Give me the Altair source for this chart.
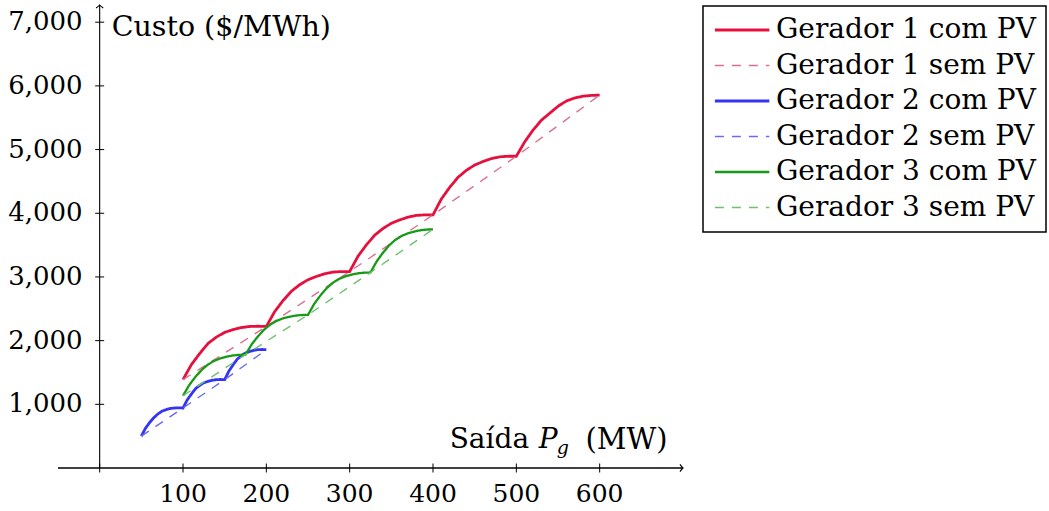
import altair as alt
import pandas as pd

# ---------------- data ----------------
series = ["Gerador 1 com PV", "Gerador 1 sem PV",
          "Gerador 2 com PV", "Gerador 2 sem PV",
          "Gerador 3 com PV", "Gerador 3 sem PV"]

g1_com_x = [100, 110, 120, 130, 140, 150, 160, 170, 180, 190,
            200, 210, 220, 230, 240, 250, 260, 270, 280, 290,
            300, 310, 320, 330, 340, 350, 360, 370, 380, 390,
            400, 410, 420, 430, 440, 450, 460, 470, 480, 490,
            500, 510, 520, 530, 540, 550, 560, 570, 580, 590, 600]
g1_com_y = [1388, 1622, 1797, 1955, 2055, 2130, 2172, 2205, 2222, 2226,
            2222, 2455, 2628, 2774, 2878, 2956, 3007, 3050, 3076, 3085,
            3085, 3325, 3503, 3655, 3761, 3842, 3895, 3939, 3966, 3975,
            3975, 4223, 4407, 4564, 4674, 4757, 4812, 4858, 4886, 4895,
            4895, 5120, 5305, 5460, 5570, 5680, 5762, 5810, 5838, 5850, 5855]
g1_sem_x = [100, 200, 300, 400, 500, 600]
g1_sem_y = [1388, 2222, 3085, 3975, 4895, 5855]

g2_com_x = [50, 55, 60, 65, 70, 75, 80, 85, 90, 95,
            100, 105, 110, 115, 120, 125, 130, 135, 140, 145,
            150, 155, 160, 165, 170, 175, 180, 185, 190, 195, 200]
g2_com_y = [500, 625, 715, 790, 850, 893, 917, 935, 942, 945,
            942, 1067, 1160, 1245, 1298, 1338, 1360, 1378, 1387, 1390,
            1387, 1519, 1618, 1707, 1764, 1806, 1830, 1849, 1858, 1861, 1858]
g2_sem_x = [50, 100, 150, 200]
g2_sem_y = [500, 942, 1387, 1858]

g3_com_x = [100, 107.5, 115, 122.5, 130, 137.5, 145, 152.5, 160, 167.5,
            175, 182.5, 190, 197.5, 205, 212.5, 220, 227.5, 235, 242.5,
            250, 257.5, 265, 272.5, 280, 287.5, 295, 302.5, 310, 317.5,
            325, 332.5, 340, 347.5, 355, 362.5, 370, 377.5, 385, 392.5, 400]
g3_com_y = [1135, 1303, 1432, 1541, 1625, 1683, 1722, 1748, 1767, 1777,
            1780, 1943, 2068, 2174, 2255, 2311, 2349, 2374, 2393, 2402,
            2405, 2578, 2711, 2824, 2910, 2970, 3010, 3037, 3057, 3067,
            3070, 3246, 3381, 3497, 3585, 3645, 3686, 3713, 3733, 3744, 3747]
g3_sem_x = [100, 175, 250, 325, 400]
g3_sem_y = [1135, 1780, 2405, 3070, 3747]

x_tick_values = [0, 100, 200, 300, 400, 500, 600]
x_label_values = [100, 200, 300, 400, 500, 600]
x_label_texts = ["100", "200", "300", "400", "500", "600"]
y_tick_values = [1000, 2000, 3000, 4000, 5000, 6000, 7000]
y_label_texts = ["1,000", "2,000", "3,000", "4,000", "5,000", "6,000", "7,000"]

# ---------------- styles ----------------
colors = ["#E6103E", "#D9708C", "#3434F2", "#6B6BF2", "#179A17", "#6CC26C"]
dashes = [[1, 0], [9, 8], [1, 0], [9, 8], [1, 0], [9, 8]]
widths = [2.8, 1.4, 2.8, 1.4, 2.3, 1.4]
FONT = "DejaVu Serif"
X_MIN, X_MAX = -50, 700
Y_MIN, Y_MAX = 0, 7270

frames = []
for name, xs, ys in [(series[0], g1_com_x, g1_com_y), (series[1], g1_sem_x, g1_sem_y),
                     (series[2], g2_com_x, g2_com_y), (series[3], g2_sem_x, g2_sem_y),
                     (series[4], g3_com_x, g3_com_y), (series[5], g3_sem_x, g3_sem_y)]:
    frames.append(pd.DataFrame({"P": xs, "C": ys, "serie": name}))
lines_df = pd.concat(frames, ignore_index=True)

xs_scale = alt.Scale(domain=[X_MIN, X_MAX], nice=False, zero=False)
ys_scale = alt.Scale(domain=[Y_MIN, Y_MAX], nice=False, zero=False)

def X(field):
    return alt.X(field, type="quantitative", scale=xs_scale, axis=None)

def Y(field):
    return alt.Y(field, type="quantitative", scale=ys_scale, axis=None)

lines = alt.Chart(lines_df).mark_line().encode(
    x=X("P"),
    y=Y("C"),
    color=alt.Color("serie:N", scale=alt.Scale(domain=series, range=colors),
                    legend=alt.Legend(title=None)),
    strokeDash=alt.StrokeDash("serie:N", scale=alt.Scale(domain=series, range=dashes),
                              legend=alt.Legend(title=None)),
    strokeWidth=alt.StrokeWidth("serie:N", scale=alt.Scale(domain=series, range=widths, type="ordinal"),
                                legend=alt.Legend(title=None)),
)

x_axis_line = alt.Chart(pd.DataFrame({"a": [X_MIN], "b": [X_MAX], "y": [0]})).mark_rule(
    color="black", strokeWidth=1.6).encode(x=X("a"), x2="b", y=Y("y"))
y_axis_line = alt.Chart(pd.DataFrame({"x": [0], "a": [Y_MIN], "b": [Y_MAX]})).mark_rule(
    color="black", strokeWidth=1.1).encode(x=X("x"), y=Y("a"), y2="b")

arrow_right = alt.Chart(pd.DataFrame({"x": [X_MAX], "y": [0]})).mark_point(
    shape="M-1.1,-1.3Q-0.4,-0.3 0,0Q-0.4,0.3 -1.1,1.3", size=30, filled=False,
    stroke="black", strokeWidth=1.1, opacity=1).encode(x=X("x"), y=Y("y"))
arrow_up = alt.Chart(pd.DataFrame({"x": [0], "y": [Y_MAX]})).mark_point(
    shape="M-1.3,1.1Q-0.3,0.4 0,0Q0.3,0.4 1.3,1.1", size=30, filled=False,
    stroke="black", strokeWidth=1.1, opacity=1).encode(x=X("x"), y=Y("y"))

x_ticks = alt.Chart(pd.DataFrame({"x": x_tick_values, "y": [0] * len(x_tick_values)})).mark_tick(
    orient="vertical", size=9, thickness=1, color="black", opacity=1).encode(x=X("x"), y=Y("y"))
y_ticks = alt.Chart(pd.DataFrame({"x": [0] * len(y_tick_values), "y": y_tick_values})).mark_tick(
    orient="horizontal", size=9, thickness=1, color="black", opacity=1).encode(x=X("x"), y=Y("y"))

x_labels = alt.Chart(pd.DataFrame({"x": x_label_values, "y": [0] * len(x_label_values),
                                   "t": x_label_texts})).mark_text(
    font=FONT, fontSize=25, color="black", align="center", baseline="middle", dy=26
).encode(x=X("x"), y=Y("y"), text="t:N")
y_labels = alt.Chart(pd.DataFrame({"x": [0] * len(y_tick_values), "y": y_tick_values,
                                   "t": y_label_texts})).mark_text(
    font=FONT, fontSize=26, color="black", align="right", baseline="middle", dx=-17
).encode(x=X("x"), y=Y("y"), text="t:N")

title_df = pd.DataFrame({
    "x": [0, 420, 526.8, 548.4, 681.6],
    "y": [7000, 435, 435, 435, 435],
    "t": ["Custo ($/MWh)", "Saída", "P", "g", "(MW)"],
})
t_custo = alt.Chart(title_df.iloc[[0]]).mark_text(
    font=FONT, fontSize=28.5, color="black", align="left", baseline="middle", dx=12, dy=5
).encode(x=X("x"), y=Y("y"), text="t:N")
t_saida = alt.Chart(title_df.iloc[[1]]).mark_text(
    font=FONT, fontSize=28, color="black", align="left", baseline="middle"
).encode(x=X("x"), y=Y("y"), text="t:N")
t_p = alt.Chart(title_df.iloc[[2]]).mark_text(
    font=FONT, fontSize=28, fontStyle="italic", color="black", align="left", baseline="middle"
).encode(x=X("x"), y=Y("y"), text="t:N")
t_g = alt.Chart(title_df.iloc[[3]]).mark_text(
    font=FONT, fontSize=19, fontStyle="italic", color="black", align="left", baseline="middle", dy=8
).encode(x=X("x"), y=Y("y"), text="t:N")
t_mw = alt.Chart(title_df.iloc[[4]]).mark_text(
    font=FONT, fontSize=29, color="black", align="right", baseline="middle"
).encode(x=X("x"), y=Y("y"), text="t:N")

chart = alt.layer(
    x_axis_line, y_axis_line, arrow_right, arrow_up, x_ticks, y_ticks,
    x_labels, y_labels, t_custo, t_saida, t_p, t_g, t_mw, lines
).properties(
    width=625, height=463,
    autosize=alt.AutoSizeParams(type="none"),
    padding={"left": 58, "top": 5, "right": 366, "bottom": 43},
).configure_view(stroke=None).configure_legend(
    orient="none", legendX=645, legendY=1, padding=10,
    strokeColor="black", strokeWidth=1.5, fillColor="white", cornerRadius=0,
    labelFont=FONT, labelFontSize=28, labelColor="black", labelLimit=500,
    symbolType="M-2.2,0H7.7", symbolSize=121, labelOffset=35, rowPadding=7.5,
)

chart.save("out.html", embed_options={"renderer": "svg", "actions": False})
